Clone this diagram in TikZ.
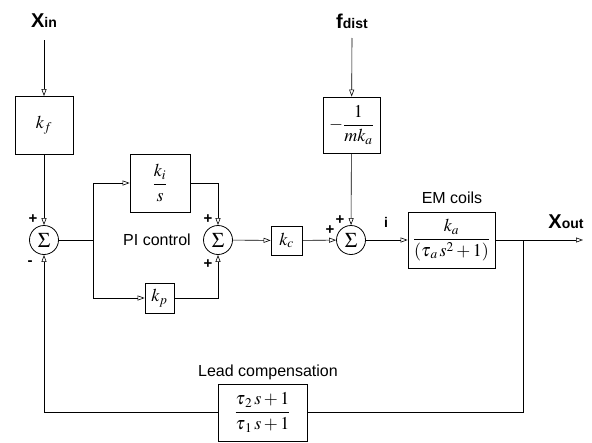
\documentclass[tikz,border=0pt]{standalone}
\usepackage{amsmath}
\usepackage{mathptmx}
\usepackage[no-math]{fontspec}
\setmainfont{Liberation Sans}
\usetikzlibrary{arrows.meta}
\begin{document}
\begin{tikzpicture}[x=1pt,y=-1pt,
  >={Triangle[open,length=7pt,width=5pt]},
  every path/.style={line width=0.6pt},
  blk/.style={draw, line width=0.8pt, inner sep=0pt, font=\fontsize{18}{21}\selectfont},
  sumnode/.style={draw, circle, line width=0.8pt, minimum size=29pt, inner sep=0pt, font=\fontsize{21}{24}\selectfont},
  lbl/.style={font=\fontsize{16}{19}\selectfont},
  sgn/.style={font=\fontsize{15}{15}\selectfont\bfseries, inner sep=0pt},
  sig/.style={anchor=base, inner sep=0pt}]
\useasboundingbox (0,0) rectangle (592,442);
% signal labels
\node[sig] (xin) at (44,27) {\fontsize{20}{20}\selectfont\bfseries X\fontsize{14}{16}\selectfont in};
\node[sig] (fdist) at (352,28) {\fontsize{20}{20}\selectfont\bfseries f\fontsize{14}{16}\selectfont dist};
\node[sig] (xout) at (566,228) {\fontsize{20}{20}\selectfont\bfseries X\fontsize{14}{16}\selectfont out};
\coordinate (xin1) at (44,40);
\coordinate (fd1) at (352,38);
% blocks
\node[blk, minimum width=58pt, minimum height=58pt] (kf) at (44,125.5) {$k_f$};
\node[sumnode] (s1) at (44,240) {$\Sigma$};
\node[blk, minimum width=60pt, minimum height=58pt] (ki) at (160,183) {$\dfrac{k_i}{s}$};
\node[blk, minimum width=29pt, minimum height=30pt] (kp) at (159.5,298) {$k_p$};
\node[sumnode] (s2) at (218,240) {$\Sigma$};
\node[blk, minimum width=31pt, minimum height=29pt] (kc) at (286.5,240.5) {$k_c$};
\node[sumnode] (s3) at (351,240) {$\Sigma$};
\node[blk, minimum width=57pt, minimum height=56pt] (mk) at (351.5,125) {$-\dfrac{1}{mk_a}$};
\node[blk, minimum width=87pt, minimum height=56pt] (em) at (451.5,240) {$\dfrac{k_a}{(\tau_{\kern1.5pt a}\,s^2+1)}$};
\node[blk, minimum width=89pt, minimum height=57pt] (lead) at (262.5,412.5) {$\dfrac{\tau_{\kern1.5pt 2}\,s+1}{\tau_{\kern1.5pt 1}\,s+1}$};
% labels
\node[lbl] (pic) at (157,240) {PI control};
\node[lbl] (emlbl) at (452,198) {EM coils};
\node[lbl] (leadlbl) at (268,372) {Lead compensation};
\node[font=\fontsize{14}{16}\selectfont\bfseries] (ilbl) at (386,222) {i};
% signs
\node[sgn] (p1) at (33,219) {+};
\node[sgn] (m1) at (30,263) {-};
\node[sgn] (p2) at (208,219) {+};
\node[sgn] (p3) at (208,264) {+};
\node[sgn] (p4) at (330,230) {+};
\node[sgn] (p5) at (340,220) {+};
% connectors
\coordinate (br1) at (93,240);
\coordinate (br2) at (523,240);
\coordinate (xend) at (583,240);
\draw[->] (xin1) -- (kf);
\draw[->] (fd1) -- (mk);
\draw[->] (kf) -- (s1);
\draw (s1) -- (br1);
\draw[->] (br1) |- (ki);
\draw[->] (br1) |- (kp);
\draw[->] (ki) -| (s2);
\draw[->] (kp) -| (s2);
\draw[->] (s2) -- (kc);
\draw[->] (kc) -- (s3);
\draw[->] (mk) -- (s3);
\draw[->] (s3) -- (em);
\draw (em) -- (br2);
\draw[->] (br2) -- (xend);
\draw (br2) |- (lead);
\draw[->] (lead) -| (s1);
\end{tikzpicture}
\end{document}
